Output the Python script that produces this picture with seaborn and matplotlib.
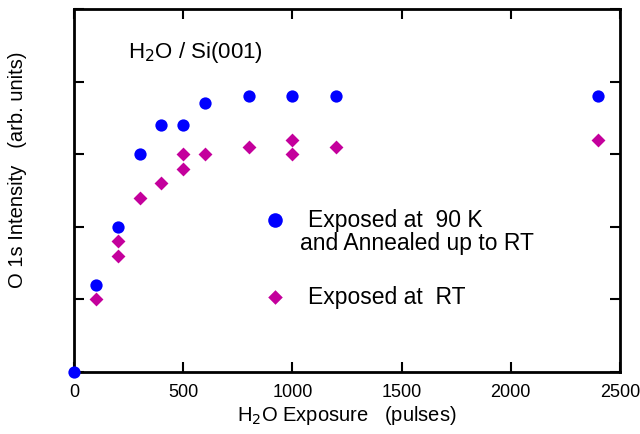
import matplotlib
matplotlib.use("Agg")
import matplotlib.pyplot as plt
import seaborn as sns
import pandas as pd

# Data
x_90k = [0, 100, 200, 300, 400, 500, 600, 800, 1000, 1200, 2400]
y_90k = [0.0, 1.2, 2.0, 3.0, 3.4, 3.4, 3.7, 3.8, 3.8, 3.8, 3.8]
x_rt = [100, 200, 200, 300, 400, 500, 500, 600, 800, 1000, 1000, 1200, 2400]
y_rt = [1.0, 1.6, 1.8, 2.4, 2.6, 2.8, 3.0, 3.0, 3.1, 3.2, 3.0, 3.1, 3.2]
label_90k = "Exposed at  90 K"
label_90k_line2 = "and Annealed up to RT"
label_rt = "Exposed at  RT"
x_ticks = [0, 500, 1000, 1500, 2000, 2500]
y_ticks = [0, 1, 2, 3, 4, 5]

df_90k = pd.DataFrame({"x": x_90k, "y": y_90k})
df_rt = pd.DataFrame({"x": x_rt, "y": y_rt})

sns.set_theme(style="ticks")
plt.rcParams["font.family"] = ["Liberation Sans", "DejaVu Sans"]
for k in ["text.color", "axes.labelcolor", "xtick.color", "ytick.color", "axes.edgecolor"]:
    plt.rcParams[k] = "black"

fig = plt.figure(figsize=(6.4, 4.35), dpi=100)
ax = fig.add_axes([74 / 640, 1 - 373 / 435, (620 - 74) / 640, (373 - 10) / 435])

sns.scatterplot(data=df_90k, x="x", y="y", color="#0000FF", marker="o",
                s=78, linewidth=0, ax=ax, clip_on=False, zorder=5, label=label_90k)
sns.scatterplot(data=df_rt, x="x", y="y", color="#C4009C", marker="D",
                s=50, linewidth=0, ax=ax, clip_on=False, zorder=5, label=label_rt)

ax.set_xlim(0, 2500)
ax.set_ylim(0, 5)
ax.set_xticks(x_ticks)
ax.set_yticks(y_ticks)
ax.set_yticklabels([])
ax.tick_params(direction="in", length=7, width=1.5, top=True, right=True,
               labelsize=13, colors="black", pad=8)
for sp in ax.spines.values():
    sp.set_linewidth(2)
    sp.set_color("black")

ax.set_xlabel("H$_2$O Exposure   (pulses)", fontsize=14.5, labelpad=2)
ax.set_ylabel("O 1s Intensity   (arb. units)", fontsize=14.5)
ax.yaxis.set_label_coords((27 - 74) / 546, (373 - 170) / 363)

ax.text(0.099, 0.884, "H$_2$O / Si(001)", transform=ax.transAxes,
        fontsize=16, ha="left", va="center")

handles, labels = ax.get_legend_handles_labels()
leg = ax.legend(handles=handles, labels=labels, loc="upper left",
                bbox_to_anchor=(0.326, 0.452), frameon=False, fontsize=16.5,
                handletextpad=0.45, labelspacing=2.35, borderpad=0,
                borderaxespad=0, handlelength=2)
leg.legend_handles[0].set_sizes([110])
leg.legend_handles[1].set_sizes([55])
ax.text(0.414, 0.358, label_90k_line2, transform=ax.transAxes,
        fontsize=16.5, ha="left", va="center")

fig.savefig("out.png", dpi=100)
